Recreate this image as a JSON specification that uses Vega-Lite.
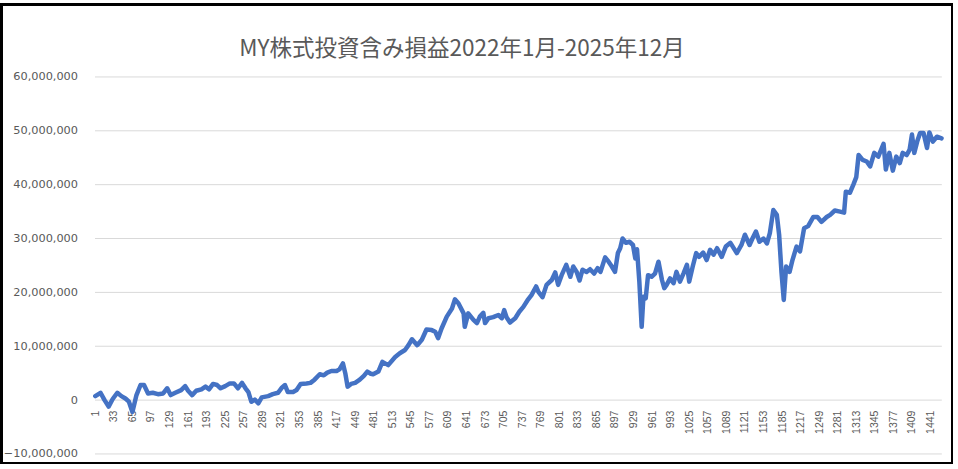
{
  "$schema": "https://vega.github.io/schema/vega-lite/v6.json",
  "autosize": {"type": "none"},
  "padding": {"left": 1.5, "top": 4.5, "right": 0, "bottom": 0},
  "width": 951,
  "height": 459,
  "background": "#ffffff",
  "title": {
    "text": "MY株式投資含み損益2022年1月-2025年12月",
    "font": "Noto Sans CJK JP",
    "fontSize": 22.5,
    "fontWeight": "normal",
    "color": "#595959",
    "anchor": "middle",
    "baseline": "bottom",
    "offset": -79,
    "dx": -15
  },
  "config": {
    "view": {"stroke": "#000000", "strokeWidth": 3},
    "axis": {"labelOverlap": false, "labelFlush": false, "labelBound": false},
    "axisX": {
      "title": null,
      "labelAngle": -90,
      "labelFont": "Liberation Sans",
      "labelFontSize": 10.5,
      "labelColor": "#595959",
      "labelPadding": 10,
      "labelOverlap": false,
      "labelSeparation": 0,
      "grid": false,
      "domain": false,
      "ticks": false,
      "tickSize": 0,
      "offset": -63.4
    },
    "axisY": {
      "title": null,
      "labelFont": "DejaVu Sans",
      "labelFontSize": 11.3,
      "labelColor": "#595959",
      "labelPadding": 0,
      "labelOverlap": false,
      "grid": false,
      "domain": false,
      "ticks": false,
      "tickSize": 0,
      "offset": -76
    }
  },
  "datasets": {
    "pnl": [
      {"day": 1, "value": 740000}, {"day": 10, "value": 1360000}, {"day": 17, "value": 0},
      {"day": 24, "value": -1200000}, {"day": 31, "value": 200000}, {"day": 39, "value": 1360000},
      {"day": 46, "value": 740000}, {"day": 53, "value": 300000}, {"day": 59, "value": -300000},
      {"day": 65, "value": -2200000}, {"day": 72, "value": 930000}, {"day": 79, "value": 2800000},
      {"day": 85, "value": 2800000}, {"day": 92, "value": 1240000}, {"day": 100, "value": 1360000},
      {"day": 109, "value": 1100000}, {"day": 118, "value": 1240000}, {"day": 125, "value": 2200000},
      {"day": 131, "value": 930000}, {"day": 139, "value": 1360000}, {"day": 149, "value": 1860000},
      {"day": 156, "value": 2600000}, {"day": 161, "value": 1730000}, {"day": 168, "value": 930000},
      {"day": 175, "value": 1730000}, {"day": 184, "value": 2000000}, {"day": 191, "value": 2500000},
      {"day": 197, "value": 2000000}, {"day": 204, "value": 3000000}, {"day": 211, "value": 2800000},
      {"day": 217, "value": 2200000}, {"day": 225, "value": 2600000}, {"day": 233, "value": 3100000},
      {"day": 240, "value": 3100000}, {"day": 247, "value": 2200000}, {"day": 254, "value": 3200000},
      {"day": 260, "value": 2200000}, {"day": 265, "value": 1500000}, {"day": 270, "value": -300000},
      {"day": 276, "value": 100000}, {"day": 282, "value": -600000}, {"day": 288, "value": 500000},
      {"day": 299, "value": 740000}, {"day": 307, "value": 1100000}, {"day": 316, "value": 1360000},
      {"day": 323, "value": 2360000}, {"day": 328, "value": 2800000}, {"day": 333, "value": 1500000},
      {"day": 342, "value": 1500000}, {"day": 348, "value": 1860000}, {"day": 355, "value": 3000000},
      {"day": 365, "value": 3100000}, {"day": 372, "value": 3200000}, {"day": 379, "value": 3800000},
      {"day": 388, "value": 4800000}, {"day": 395, "value": 4600000}, {"day": 401, "value": 5100000},
      {"day": 408, "value": 5400000}, {"day": 417, "value": 5400000}, {"day": 422, "value": 5700000},
      {"day": 428, "value": 6800000}, {"day": 432, "value": 5000000}, {"day": 436, "value": 2500000},
      {"day": 442, "value": 3000000}, {"day": 449, "value": 3200000}, {"day": 457, "value": 3800000},
      {"day": 464, "value": 4500000}, {"day": 470, "value": 5300000}, {"day": 476, "value": 4900000},
      {"day": 480, "value": 4800000}, {"day": 489, "value": 5300000}, {"day": 496, "value": 7100000},
      {"day": 506, "value": 6500000}, {"day": 518, "value": 8000000}, {"day": 526, "value": 8700000},
      {"day": 535, "value": 9300000}, {"day": 541, "value": 10200000}, {"day": 547, "value": 11300000},
      {"day": 556, "value": 10200000}, {"day": 564, "value": 11200000}, {"day": 572, "value": 13100000},
      {"day": 581, "value": 13000000}, {"day": 587, "value": 12700000}, {"day": 592, "value": 11500000},
      {"day": 598, "value": 13300000}, {"day": 607, "value": 15500000}, {"day": 616, "value": 17000000},
      {"day": 621, "value": 18700000}, {"day": 627, "value": 18000000}, {"day": 636, "value": 16100000},
      {"day": 638, "value": 13600000}, {"day": 644, "value": 16100000}, {"day": 653, "value": 14900000},
      {"day": 659, "value": 14300000}, {"day": 664, "value": 15500000}, {"day": 670, "value": 16200000},
      {"day": 673, "value": 14300000}, {"day": 679, "value": 15200000}, {"day": 687, "value": 15400000},
      {"day": 696, "value": 15800000}, {"day": 702, "value": 15200000}, {"day": 706, "value": 16700000},
      {"day": 710, "value": 15400000}, {"day": 716, "value": 14400000}, {"day": 725, "value": 15200000},
      {"day": 732, "value": 16400000}, {"day": 739, "value": 17300000}, {"day": 746, "value": 18500000},
      {"day": 753, "value": 19500000}, {"day": 761, "value": 21100000}, {"day": 765, "value": 20100000},
      {"day": 772, "value": 19100000}, {"day": 779, "value": 21400000}, {"day": 788, "value": 22300000},
      {"day": 794, "value": 23700000}, {"day": 799, "value": 21400000}, {"day": 805, "value": 23200000},
      {"day": 813, "value": 25100000}, {"day": 820, "value": 22900000}, {"day": 825, "value": 24800000},
      {"day": 831, "value": 23800000}, {"day": 836, "value": 22200000}, {"day": 841, "value": 24200000},
      {"day": 848, "value": 23800000}, {"day": 854, "value": 24300000}, {"day": 861, "value": 23500000},
      {"day": 867, "value": 24500000}, {"day": 872, "value": 23800000}, {"day": 880, "value": 26500000},
      {"day": 886, "value": 25700000}, {"day": 891, "value": 24900000}, {"day": 897, "value": 23800000},
      {"day": 902, "value": 27300000}, {"day": 906, "value": 28200000}, {"day": 910, "value": 30000000},
      {"day": 916, "value": 29200000}, {"day": 922, "value": 29400000}, {"day": 928, "value": 28800000},
      {"day": 932, "value": 26300000}, {"day": 935, "value": 28000000}, {"day": 939, "value": 22000000},
      {"day": 943, "value": 13600000}, {"day": 946, "value": 19200000}, {"day": 950, "value": 18900000},
      {"day": 954, "value": 23200000}, {"day": 960, "value": 22900000}, {"day": 966, "value": 23500000},
      {"day": 972, "value": 25700000}, {"day": 978, "value": 22300000}, {"day": 982, "value": 20800000},
      {"day": 986, "value": 21400000}, {"day": 992, "value": 22600000}, {"day": 998, "value": 21700000},
      {"day": 1003, "value": 23800000}, {"day": 1009, "value": 22000000}, {"day": 1015, "value": 23500000},
      {"day": 1021, "value": 25100000}, {"day": 1025, "value": 22000000}, {"day": 1031, "value": 24800000},
      {"day": 1037, "value": 27300000}, {"day": 1042, "value": 26600000}, {"day": 1049, "value": 27400000},
      {"day": 1055, "value": 26000000}, {"day": 1061, "value": 27900000}, {"day": 1067, "value": 27000000},
      {"day": 1073, "value": 28200000}, {"day": 1081, "value": 26600000}, {"day": 1088, "value": 28500000},
      {"day": 1096, "value": 29200000}, {"day": 1107, "value": 27300000}, {"day": 1115, "value": 28800000},
      {"day": 1121, "value": 30700000}, {"day": 1129, "value": 28800000}, {"day": 1134, "value": 30000000},
      {"day": 1140, "value": 31300000}, {"day": 1146, "value": 29400000}, {"day": 1153, "value": 30000000},
      {"day": 1159, "value": 29100000}, {"day": 1164, "value": 31000000}, {"day": 1170, "value": 35300000},
      {"day": 1176, "value": 34400000}, {"day": 1180, "value": 30700000}, {"day": 1184, "value": 23800000},
      {"day": 1188, "value": 18600000}, {"day": 1192, "value": 24800000}, {"day": 1198, "value": 23800000},
      {"day": 1203, "value": 26000000}, {"day": 1210, "value": 28500000}, {"day": 1216, "value": 27600000},
      {"day": 1223, "value": 31900000}, {"day": 1230, "value": 32300000}, {"day": 1239, "value": 34000000},
      {"day": 1246, "value": 34000000}, {"day": 1253, "value": 33100000}, {"day": 1262, "value": 34000000},
      {"day": 1268, "value": 34400000}, {"day": 1276, "value": 35200000}, {"day": 1285, "value": 35000000},
      {"day": 1292, "value": 34800000}, {"day": 1295, "value": 38700000}, {"day": 1302, "value": 38500000},
      {"day": 1308, "value": 40000000}, {"day": 1313, "value": 41400000}, {"day": 1317, "value": 45500000},
      {"day": 1324, "value": 44600000}, {"day": 1331, "value": 44300000}, {"day": 1337, "value": 43400000},
      {"day": 1344, "value": 45900000}, {"day": 1351, "value": 45200000}, {"day": 1360, "value": 47600000},
      {"day": 1364, "value": 42800000}, {"day": 1370, "value": 45900000}, {"day": 1376, "value": 42600000},
      {"day": 1382, "value": 45200000}, {"day": 1388, "value": 44000000}, {"day": 1393, "value": 45900000},
      {"day": 1400, "value": 45500000}, {"day": 1405, "value": 46500000}, {"day": 1409, "value": 49300000},
      {"day": 1413, "value": 45900000}, {"day": 1418, "value": 48000000}, {"day": 1423, "value": 49600000},
      {"day": 1429, "value": 49600000}, {"day": 1435, "value": 46800000}, {"day": 1439, "value": 49700000},
      {"day": 1445, "value": 48000000}, {"day": 1452, "value": 48900000}, {"day": 1460, "value": 48600000}
    ],
    "grid": [
      {"value": -10000000}, {"value": 0}, {"value": 10000000}, {"value": 20000000},
      {"value": 30000000}, {"value": 40000000}, {"value": 50000000}, {"value": 60000000}
    ]
  },
  "layer": [
    {
      "data": {"name": "grid"},
      "mark": {"type": "rule", "color": "#d9d9d9", "strokeWidth": 1},
      "encoding": {
        "x": {"datum": 0.5, "type": "quantitative"},
        "x2": {"datum": 1460.5},
        "y": {"field": "value", "type": "quantitative"}
      }
    },
    {
      "data": {"name": "pnl"},
      "mark": {"type": "line", "color": "#4472C4", "strokeWidth": 4.5, "strokeJoin": "round", "strokeCap": "round"},
      "encoding": {
        "x": {
          "field": "day",
          "type": "quantitative",
          "scale": {"domain": [-160.7, 1478.9], "nice": false, "zero": false},
          "axis": {
            "values": [1, 33, 65, 97, 129, 161, 193, 225, 257, 289, 321, 353, 385, 417, 449, 481, 513, 545, 577, 609, 641, 673, 705, 737, 769, 801, 833, 865, 897, 929, 961, 993, 1025, 1057, 1089, 1121, 1153, 1185, 1217, 1249, 1281, 1313, 1345, 1377, 1409, 1441],
            "tickCount": 100,
            "format": "d",
            "labelOverlap": false
          }
        },
        "y": {
          "field": "value",
          "type": "quantitative",
          "scale": {"domain": [-11770000, 73450000], "nice": false, "zero": false},
          "axis": {
            "values": [-10000000, 0, 10000000, 20000000, 30000000, 40000000, 50000000, 60000000],
            "tickCount": 20,
            "format": ",d"
          }
        }
      }
    }
  ]
}
